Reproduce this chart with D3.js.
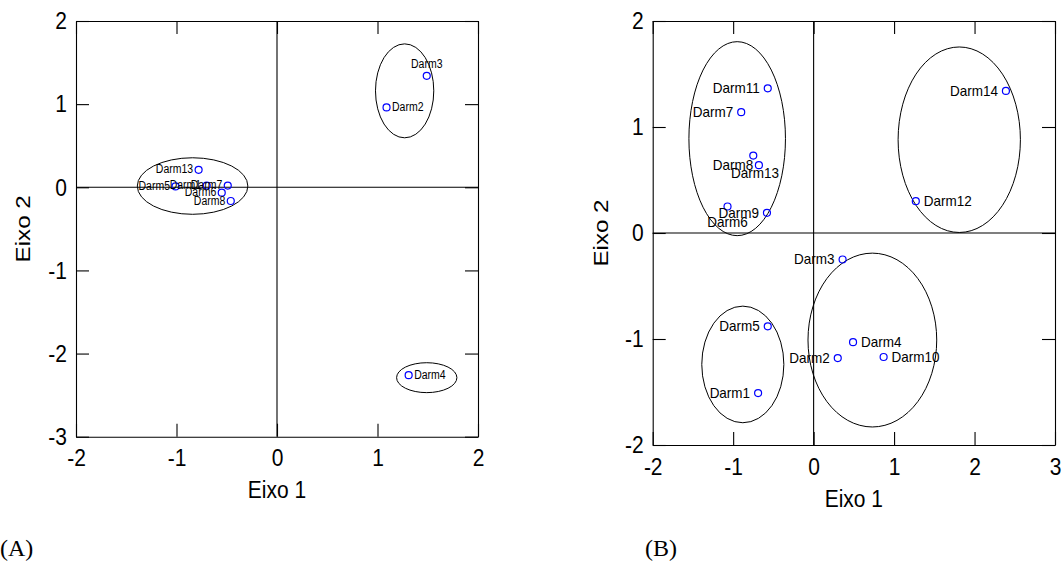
<!DOCTYPE html>
<html>
<head>
<meta charset="utf-8">
<script src="https://cdn.jsdelivr.net/npm/d3@7"></script>
<style>
  body { margin: 0; background: #fff; }
  svg { display: block; }
</style>
</head>
<body>
<svg width="1063" height="561"></svg>
<script>
// ---- painel A ----
var namesA = ["Darm3", "Darm2", "Darm4", "Darm13", "Darm5", "Darm1", "Darm7", "Darm6", "Darm8"];
var xA = [1.49, 1.09, 1.31, -0.78, -1.01, -0.70, -0.49, -0.55, -0.46];
var yA = [1.34, 0.96, -2.26, 0.21, 0.01, 0.02, 0.02, -0.065, -0.165];
var placeA = ["above", "right", "right", "left", "left", "left", "left", "left", "left"];
var ellCxA = [1.27, 1.49, -0.84];
var ellCyA = [1.16, -2.29, 0.015];
var ellRxA = [0.29, 0.30, 0.55];
var ellRyA = [0.565, 0.18, 0.34];
var xTicksA = [-2, -1, 0, 1, 2];
var yTicksA = [-3, -2, -1, 0, 1, 2];

// ---- painel B ----
var namesB = ["Darm11", "Darm7", "Darm8", "Darm13", "Darm9", "Darm6", "Darm3", "Darm5",
              "Darm1", "Darm2", "Darm4", "Darm10", "Darm14", "Darm12"];
var xB = [-0.57, -0.90, -0.75, -0.68, -0.58, -1.07, 0.36, -0.57, -0.69, 0.30, 0.49, 0.87, 2.39, 1.27];
var yB = [1.365, 1.14, 0.73, 0.64, 0.19, 0.25, -0.25, -0.88, -1.51, -1.18, -1.03, -1.17, 1.34, 0.30];
var placeB = ["left", "left", "belowLeft", "below", "left", "belowFar", "left", "left",
              "left", "left", "right", "right", "left", "right"];
var ellCxB = [-0.95, 1.81, -0.88, 0.73];
var ellCyB = [0.89, 0.88, -1.24, -1.01];
var ellRxB = [0.60, 0.76, 0.51, 0.80];
var ellRyB = [0.915, 0.875, 0.55, 0.82];
var xTicksB = [-2, -1, 0, 1, 2, 3];
var yTicksB = [-2, -1, 0, 1, 2];

var svg = d3.select("svg");
var stretch = 1.15;
var sans = "'Liberation Sans', Arial, Helvetica, sans-serif";
var fmt = function (d) { return String(d); };

drawPanel({
    names: namesA, xs: xA, ys: yA, place: placeA,
    ell: [ellCxA, ellCyA, ellRxA, ellRyA],
    xDomain: [-2, 2], yDomain: [-3, 2], xTicks: xTicksA, yTicks: yTicksA,
    left: 76, right: 478, top: 21, bottom: 436.7,
    labelSize: 10.5, labelGap: 5.5,
    xTitleY: 498, yTitleX: 30, letter: "(A)", letterX: 0
});

drawPanel({
    names: namesB, xs: xB, ys: yB, place: placeB,
    ell: [ellCxB, ellCyB, ellRxB, ellRyB],
    xDomain: [-2, 3], yDomain: [-2, 2], xTicks: xTicksB, yTicks: yTicksB,
    left: 652.7, right: 1055, top: 21, bottom: 445,
    labelSize: 13.5, labelGap: 8,
    xTitleY: 507, yTitleX: 608, letter: "(B)", letterX: 645
});

function drawPanel(c) {
    var x = d3.scaleLinear().domain(c.xDomain).range([c.left, c.right]);
    var y = d3.scaleLinear().domain(c.yDomain).range([c.bottom, c.top]);
    var g = svg.append("g");

    // eixos com marcas para dentro nos quatro lados
    var axB = g.append("g").attr("transform", "translate(0," + c.bottom + ")")
        .call(d3.axisBottom(x).tickValues(c.xTicks).tickFormat(fmt)
            .tickSizeInner(-13).tickSizeOuter(0).tickPadding(11));
    var axL = g.append("g").attr("transform", "translate(" + c.left + ",0)")
        .call(d3.axisLeft(y).tickValues(c.yTicks).tickFormat(fmt)
            .tickSizeInner(-13).tickSizeOuter(0).tickPadding(9));
    g.append("g").attr("transform", "translate(0," + c.top + ")")
        .call(d3.axisTop(x).tickValues(c.xTicks).tickSizeInner(-13).tickSizeOuter(0).tickFormat(""));
    g.append("g").attr("transform", "translate(" + c.right + ",0)")
        .call(d3.axisRight(y).tickValues(c.yTicks).tickSizeInner(-13).tickSizeOuter(0).tickFormat(""));

    g.selectAll("path.domain, .tick line").attr("stroke", "#000").attr("stroke-width", 1.1);
    [axB, axL].forEach(function (ax) {
        ax.selectAll("text")
            .attr("font-family", sans)
            .attr("font-size", 21)
            .attr("fill", "#000")
            .attr("transform", "scale(1," + stretch + ")");
    });

    // linhas do zero
    g.append("line").attr("x1", x(0)).attr("x2", x(0)).attr("y1", c.top).attr("y2", c.bottom)
        .attr("stroke", "#000").attr("stroke-width", 1.1);
    g.append("line").attr("x1", c.left).attr("x2", c.right).attr("y1", y(0)).attr("y2", y(0))
        .attr("stroke", "#000").attr("stroke-width", 1.1);

    // elipses dos grupos
    g.selectAll(".ell")
        .data(c.ell[0])
        .enter().append("ellipse")
        .attr("cx", function (d) { return x(d); })
        .attr("cy", function (d, i) { return y(c.ell[1][i]); })
        .attr("rx", function (d, i) { return x(d + c.ell[2][i]) - x(d); })
        .attr("ry", function (d, i) { return y(c.ell[1][i]) - y(c.ell[1][i] + c.ell[3][i]); })
        .attr("fill", "none")
        .attr("stroke", "#000")
        .attr("stroke-width", 1);

    // pontos
    g.selectAll(".pt")
        .data(c.names)
        .enter().append("circle")
        .attr("cx", function (d, i) { return x(c.xs[i]); })
        .attr("cy", function (d, i) { return y(c.ys[i]); })
        .attr("r", 3.5)
        .attr("fill", "none")
        .attr("stroke", "#0000ff")
        .attr("stroke-width", 1.2);

    // rótulos
    var gap = c.labelGap, fs = c.labelSize;
    var offsets = {
        left: [-gap, 0.35 * fs, "end"],
        right: [gap, 0.35 * fs, "start"],
        above: [0, -gap - 2, "middle"],
        below: [-4, 12.5, "middle"],
        belowLeft: [0, 14, "end"],
        belowFar: [0, 20.5, "middle"]
    };
    g.selectAll(".lab")
        .data(c.names)
        .enter().append("text")
        .attr("transform", function (d, i) {
            var o = offsets[c.place[i]];
            return "translate(" + (x(c.xs[i]) + o[0]) + "," + (y(c.ys[i]) + o[1]) + ") scale(1," + stretch + ")";
        })
        .attr("text-anchor", function (d, i) { return offsets[c.place[i]][2]; })
        .attr("font-family", sans)
        .attr("font-size", fs)
        .attr("fill", "#000")
        .text(function (d) { return d; });

    // títulos dos eixos
    g.append("text")
        .attr("transform", "translate(" + ((c.left + c.right) / 2) + "," + c.xTitleY + ") scale(1," + stretch + ")")
        .attr("text-anchor", "middle")
        .attr("font-family", sans)
        .attr("font-size", 21)
        .text("Eixo 1");
    g.append("text")
        .attr("transform", "translate(" + c.yTitleX + "," + ((c.top + c.bottom) / 2) + ") rotate(-90) scale(" + stretch + ",1)")
        .attr("text-anchor", "middle")
        .attr("font-family", sans)
        .attr("font-size", 21)
        .text("Eixo 2");

    g.append("text")
        .attr("x", c.letterX)
        .attr("y", 556)
        .attr("font-family", "'Liberation Serif', 'Times New Roman', serif")
        .attr("font-size", 24)
        .text(c.letter);
}
</script>
</body>
</html>
